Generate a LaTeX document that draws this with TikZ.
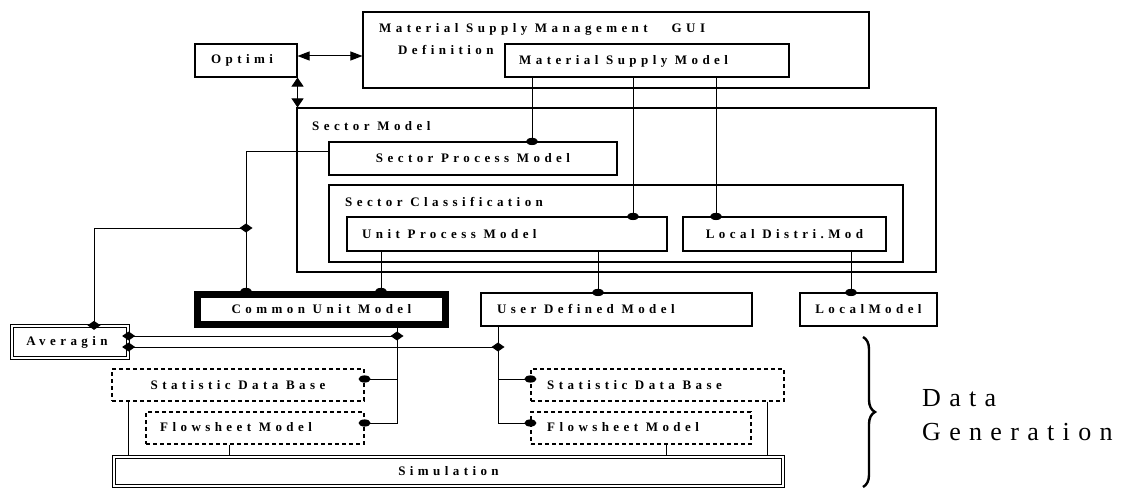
\documentclass[tikz,border=0pt]{standalone}
\usepackage{fontspec}
\setmainfont{Liberation Serif}
\newfontfamily\lblfont[LetterSpace=34]{Liberation Serif}
\newfontfamily\capfont[LetterSpace=32]{Liberation Serif}
\usetikzlibrary{arrows.meta,fit,decorations.pathreplacing}

\tikzset{
  box/.style={draw, line width=1.1pt, inner sep=0pt},
  dashbox/.style={box, dash pattern=on 4pt off 3pt},
  dblbox/.style={draw, line width=0.9pt, double=white, double distance=2pt, inner sep=0pt},
  lbl/.style={font=\lblfont\bfseries\fontsize{13}{15}\selectfont, inner sep=0pt},
  lbll/.style={lbl, anchor=west},
  bigtxt/.style={font=\capfont\fontsize{26}{30}\selectfont, inner sep=0pt, anchor=west},
  wire/.style={line width=1pt},
  hbiarrow/.style={line width=1pt, {Triangle[length=12pt,width=9pt]}-{Triangle[length=12pt,width=9pt]}},
  vbiarrow/.style={line width=1pt, {Triangle[length=9pt,width=12pt]}-{Triangle[length=9pt,width=12pt]}},
  jdot/.pic={\fill (0,0) ellipse [x radius=6pt, y radius=3.6pt];},
  jdia/.pic={\fill (-6.5pt,0) -- (0,4.5pt) -- (6.5pt,0) -- (0,-4.5pt) -- cycle;}
}

\begin{document}
\begin{tikzpicture}[x=1pt, y=-1pt]
\path[fill=white, use as bounding box] (0,0) rectangle (1124,489);

% ---- boxes and their labels ----
\node[box, fit={(363,12) (869,88)}] (msm) {};
\node[lbll] (msmt) at (379,29) {Material Supply Management\hspace{24pt}GUI};
\node[lbll] (msmd) at (398,50) {Definition};
\node[box, fit={(505,44) (789,77)}] (msmod) {};
\node[lbll] (msmodt) at (519,61) {Material Supply Model};
\node[box, fit={(195,44) (297,77)}] (opt) {};
\node[lbl] (optt) at ([xshift=-4pt]opt.center) {Optimi};

\node[box, fit={(297,108) (936,272)}] (sm) {};
\node[lbll] (smt) at (312,126) {Sector Model};
\node[box, fit={(329,142) (617,175)}] (spm) {};
\node[lbl] (spmt) at (spm.center) {Sector Process Model};
\node[box, fit={(329,185) (903,262)}] (sc) {};
\node[lbll] (sct) at (345,202) {Sector Classification};
\node[box, fit={(347,217) (667,251)}] (upm) {};
\node[lbll] (upmt) at (362,234) {Unit Process Model};
\node[box, fit={(683,217) (886,251)}] (ldm) {};
\node[lbl] (ldmt) at (ldm.center) {Local Distri.Mod};

\node[box, fit={(195,292) (448,327)}] (cum) {};
\draw[line width=5pt] ([shift={(4.3,4.3)}]cum.north west) rectangle ([shift={(-4.3,-4.3)}]cum.south east);
\node[lbl] (cumt) at (cum.center) {Common Unit Model};
\node[box, fit={(481,293) (752,326)}] (udm) {};
\node[lbll] (udmt) at (497,309) {User Defined Model};
\node[box, fit={(800,293) (937,326)}] (lm) {};
\node[lbl] (lmt) at (lm.center) {LocalModel};

\node[dblbox, fit={(11.8,325.8) (128.2,358.2)}] (avg) {};
\node[lbl] (avgt) at ([xshift=-3pt]avg.center) {Averagin};

\node[dashbox, fit={(112,369) (364,401)}] (sdbl) {};
\node[lbl] (sdblt) at (sdbl.center) {Statistic Data Base};
\node[dashbox, fit={(146,412) (364,444)}] (fsl) {};
\node[lbll] (fslt) at (160,427) {Flowsheet Model};
\node[dashbox, fit={(531,369) (784,401)}] (sdbr) {};
\node[lbll] (sdbrt) at (547,385) {Statistic Data Base};
\node[dashbox, fit={(531,412) (751,444)}] (fsr) {};
\node[lbll] (fsrt) at (547,427) {Flowsheet Model};

\node[dblbox, fit={(113.8,456.8) (783.2,486.2)}] (sim) {};
\node[lbl] (simt) at (sim.center) {Simulation};

% ---- attachment columns and rows ----
\coordinate (xa) at (532,0);
\coordinate (xb) at (633,0);
\coordinate (xc) at (716,0);
\coordinate (xd) at (381,0);
\coordinate (xe) at (598,0);
\coordinate (xf) at (851,0);
\coordinate (xg) at (246,0);
\coordinate (xh) at (94,0);
\coordinate (xi) at (397,0);
\coordinate (xj) at (498,0);
\coordinate (xk) at (128,0);
\coordinate (xl) at (229,0);
\coordinate (xm) at (666,0);
\coordinate (xn) at (767,0);
\coordinate (ya) at (0,152);
\coordinate (yb) at (0,228);
\coordinate (yc) at (0,336);
\coordinate (yd) at (0,347);
\coordinate (ye) at (0,379);
\coordinate (yf) at (0,423);

% ---- arrows ----
\draw[hbiarrow] ([yshift=4.5pt]opt.east) -- ([yshift=4.5pt]opt.east -| msm.west);
\draw[vbiarrow] (opt.south east) -- (opt.south east |- sm.north);

% ---- material supply links ----
\draw[wire] (msmod.south -| xa) -- (spm.north -| xa) pic {jdot};
\draw[wire] (msmod.south -| xb) -- (upm.north -| xb) pic {jdot};
\draw[wire] (msmod.south -| xc) -- (ldm.north -| xc) pic {jdot};

% ---- model links ----
\draw[wire] (upm.south -| xd) -- (cum.north -| xd) pic {jdot};
\draw[wire] (upm.south -| xe) -- (udm.north -| xe) pic {jdot};
\draw[wire] (ldm.south -| xf) -- (lm.north -| xf) pic {jdot};

\draw[wire] (spm.west |- ya) -- (xg |- ya) -- (cum.north -| xg) pic {jdot};
\path (xg |- yb) pic {jdia};
\draw[wire] (xg |- yb) -- (xh |- yb) -- (avg.north -| xh) pic {jdia};

% ---- averaging links ----
\draw[wire] (avg.east |- yc) -- (xi |- yc);
\draw[wire] (avg.east |- yd) -- (xj |- yd);
\path (avg.east |- yc) pic {jdia} (xi |- yc) pic {jdia};
\path (avg.east |- yd) pic {jdia} (xj |- yd) pic {jdia};

\draw[wire] (cum.south -| xi) -- (xi |- yf) -- (fsl.east |- yf) pic {jdot};
\draw[wire] (xi |- ye) -- (sdbl.east |- ye) pic {jdot};
\draw[wire] (udm.south -| xj) -- (xj |- yf) -- (fsr.west |- yf) pic {jdot};
\draw[wire] (xj |- ye) -- (sdbr.west |- ye) pic {jdot};

% ---- simulation links ----
\draw[wire] (sdbl.south -| xk) -- (sim.north -| xk);
\draw[wire] (fsl.south -| xl) -- (sim.north -| xl);
\draw[wire] (fsr.south -| xm) -- (sim.north -| xm);
\draw[wire] (sdbr.south -| xn) -- (sim.north -| xn);

% ---- data generation group ----
\coordinate (bt) at (863,337);
\coordinate (bb) at (863,487);
\draw[line width=2.4pt, decorate, decoration={brace, amplitude=12pt}] (bt) -- (bb);
\node[bigtxt] (dg1) at (922,398) {Data};
\node[bigtxt] (dg2) at (922,432) {Generation};
\end{tikzpicture}
\end{document}
